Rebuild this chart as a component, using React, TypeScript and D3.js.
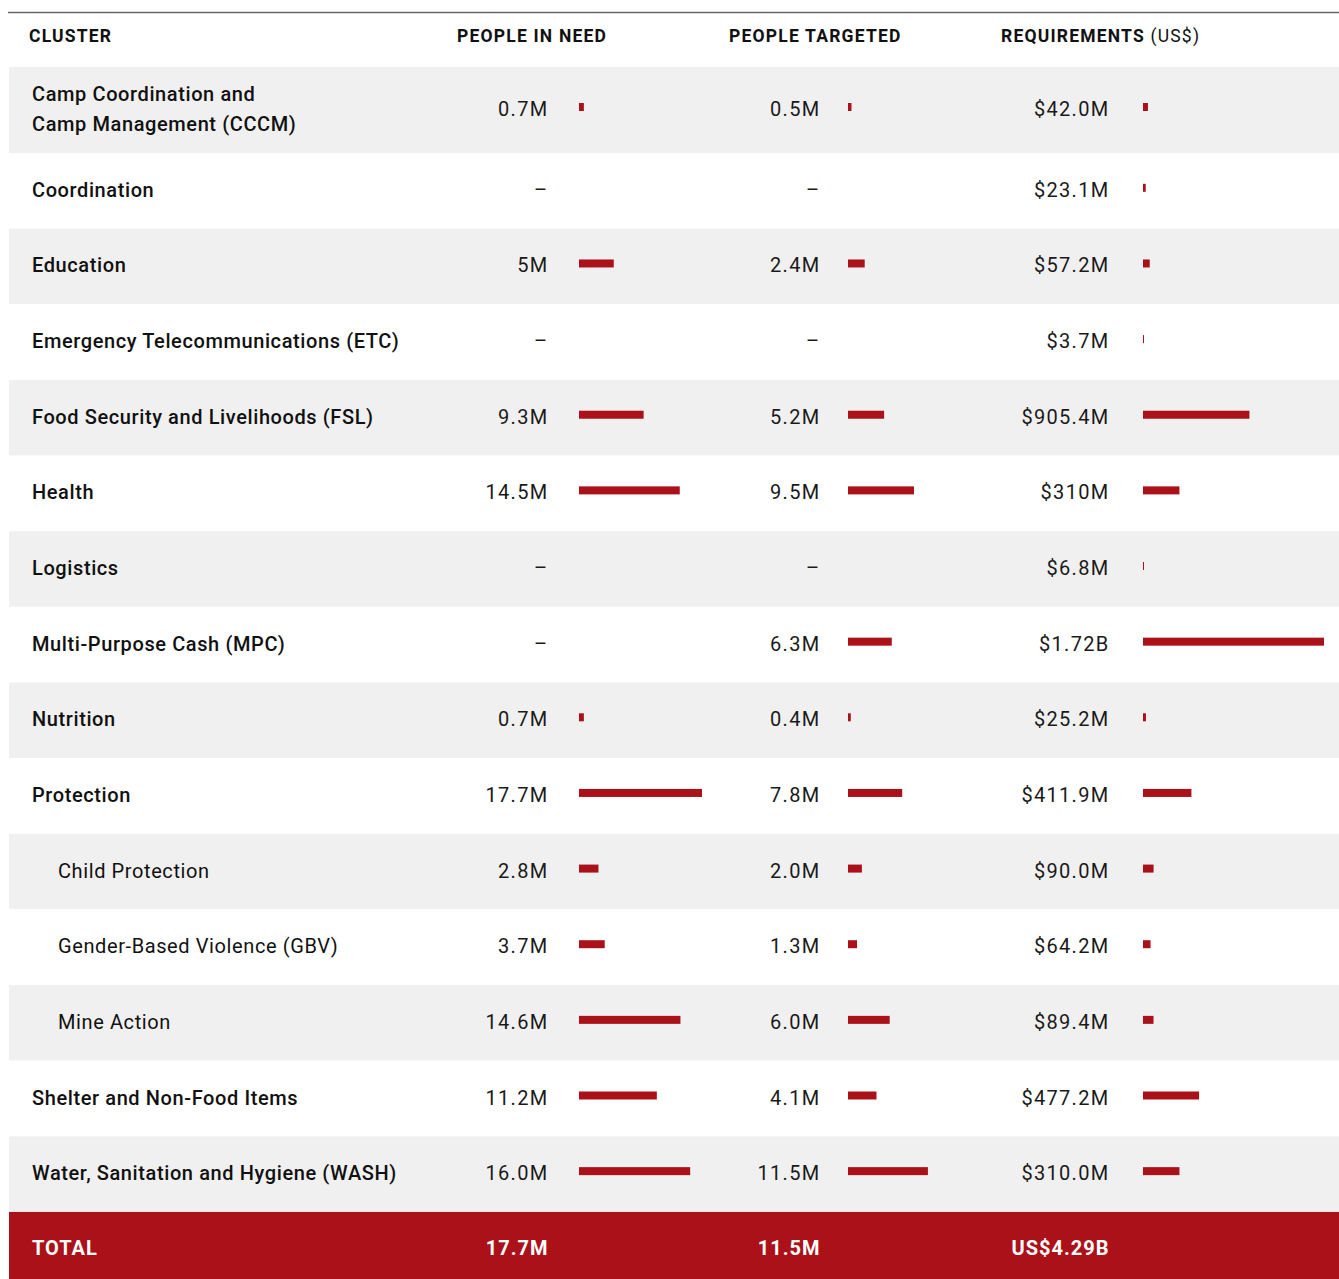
import React from 'react';
import * as d3 from 'd3';

const clusters = [
  'Camp Coordination and\nCamp Management (CCCM)',
  'Coordination',
  'Education',
  'Emergency Telecommunications (ETC)',
  'Food Security and Livelihoods (FSL)',
  'Health',
  'Logistics',
  'Multi-Purpose Cash (MPC)',
  'Nutrition',
  'Protection',
  'Child Protection',
  'Gender-Based Violence (GBV)',
  'Mine Action',
  'Shelter and Non-Food Items',
  'Water, Sanitation and Hygiene (WASH)',
];
const subClusters = ['Child Protection', 'Gender-Based Violence (GBV)', 'Mine Action'];

const peopleInNeed = [0.7, null, 5, null, 9.3, 14.5, null, null, 0.7, 17.7, 2.8, 3.7, 14.6, 11.2, 16.0];
const pinLabels = ['0.7M', '–', '5M', '–', '9.3M', '14.5M', '–', '–', '0.7M', '17.7M', '2.8M', '3.7M', '14.6M', '11.2M', '16.0M'];

const peopleTargeted = [0.5, null, 2.4, null, 5.2, 9.5, null, 6.3, 0.4, 7.8, 2.0, 1.3, 6.0, 4.1, 11.5];
const targetedLabels = ['0.5M', '–', '2.4M', '–', '5.2M', '9.5M', '–', '6.3M', '0.4M', '7.8M', '2.0M', '1.3M', '6.0M', '4.1M', '11.5M'];

// US$ millions
const requirements = [42.0, 23.1, 57.2, 3.7, 905.4, 310, 6.8, 1720, 25.2, 411.9, 90.0, 64.2, 89.4, 477.2, 310.0];
const reqLabels = ['$42.0M', '$23.1M', '$57.2M', '$3.7M', '$905.4M', '$310M', '$6.8M', '$1.72B', '$25.2M', '$411.9M', '$90.0M', '$64.2M', '$89.4M', '$477.2M', '$310.0M'];

const totals = ['17.7M', '11.5M', 'US$4.29B'];

const RED = '#ab1119';
const GREY = '#f0f0f0';
const FONT = 'Roboto, "Noto Sans", sans-serif';

const App: React.FC = () => {
  const W = 1339;
  const H = 1279;
  const rowTop = 67;
  const firstRowH = 86;
  const rowH = 75.64;

  const rowY = (i: number) => (i === 0 ? rowTop : rowTop + firstRowH + (i - 1) * rowH);
  const rowHeight = (i: number) => (i === 0 ? firstRowH : rowH);
  const totalY = rowY(clusters.length);

  const peopleX = d3.scaleLinear().domain([0, 17.7]).range([0, 123]);
  const reqX = d3.scaleLinear().domain([0, 1540]).range([0, 181]).clamp(true);

  const cols = [
    { valueRight: 548.5, barX: 579, values: peopleInNeed, labels: pinLabels, scale: peopleX },
    { valueRight: 820.5, barX: 848, values: peopleTargeted, labels: targetedLabels, scale: peopleX },
    { valueRight: 1109.5, barX: 1143, values: requirements, labels: reqLabels, scale: reqX },
  ];

  const valueStyle = { fontFamily: FONT, fontSize: 20, letterSpacing: 1.3, fill: '#1a1a1a' } as const;

  return (
    <svg width={W} height={H} style={{ position: 'absolute', left: 0, top: 0 }}>
      <rect x={0} y={0} width={W} height={H} fill="#fff" />
      <line x1={8} x2={W} y1={12.5} y2={12.5} stroke="#666" strokeWidth={1.5} />

      <g fontFamily={FONT} fontSize={17.5} fontWeight={700} fill="#111" letterSpacing={1.2}>
        <text x={29} y={41.5}>CLUSTER</text>
        <text x={457} y={41.5}>PEOPLE IN NEED</text>
        <text x={729} y={41.5}>PEOPLE TARGETED</text>
        <text x={1001} y={41.5}>
          REQUIREMENTS <tspan fontWeight={400}>(US$)</tspan>
        </text>
      </g>

      {clusters.map((name, i) => {
        const y0 = rowY(i);
        const h = rowHeight(i);
        const cy = y0 + h / 2 - 1;
        const isSub = subClusters.includes(name);
        const lines = name.split('\n');
        return (
          <g key={name}>
            <rect x={9} y={y0} width={W - 9} height={h} fill={i % 2 === 0 ? GREY : '#fff'} />
            {lines.map((ln, k) => (
              <text
                key={k}
                x={isSub ? 58 : 32}
                y={cy + 7 + (k - (lines.length - 1) / 2) * 30}
                fontFamily={FONT}
                fontSize={20}
                fontWeight={isSub ? 400 : 500}
                letterSpacing={0.6}
                fill="#111"
              >
                {ln}
              </text>
            ))}
            {cols.map((c, j) => {
              const v = c.values[i];
              return (
                <g key={j}>
                  <text x={c.valueRight} y={cy + 7} textAnchor="end" {...valueStyle}>
                    {c.labels[i]}
                  </text>
                  {v != null && (
                    <rect
                      x={c.barX}
                      y={cy - 6}
                      width={Math.max(1, c.scale(v))}
                      height={8}
                      fill={RED}
                    />
                  )}
                </g>
              );
            })}
          </g>
        );
      })}

      <rect x={9} y={totalY} width={W - 9} height={H - totalY} fill={RED} />
      <g fontFamily={FONT} fontSize={20} fontWeight={700} fill="#fff" letterSpacing={1}>
        <text x={32} y={1255}>TOTAL</text>
        {cols.map((c, j) => (
          <text key={j} x={c.valueRight} y={1255} textAnchor="end">
            {totals[j]}
          </text>
        ))}
      </g>
    </svg>
  );
};

export default App;
